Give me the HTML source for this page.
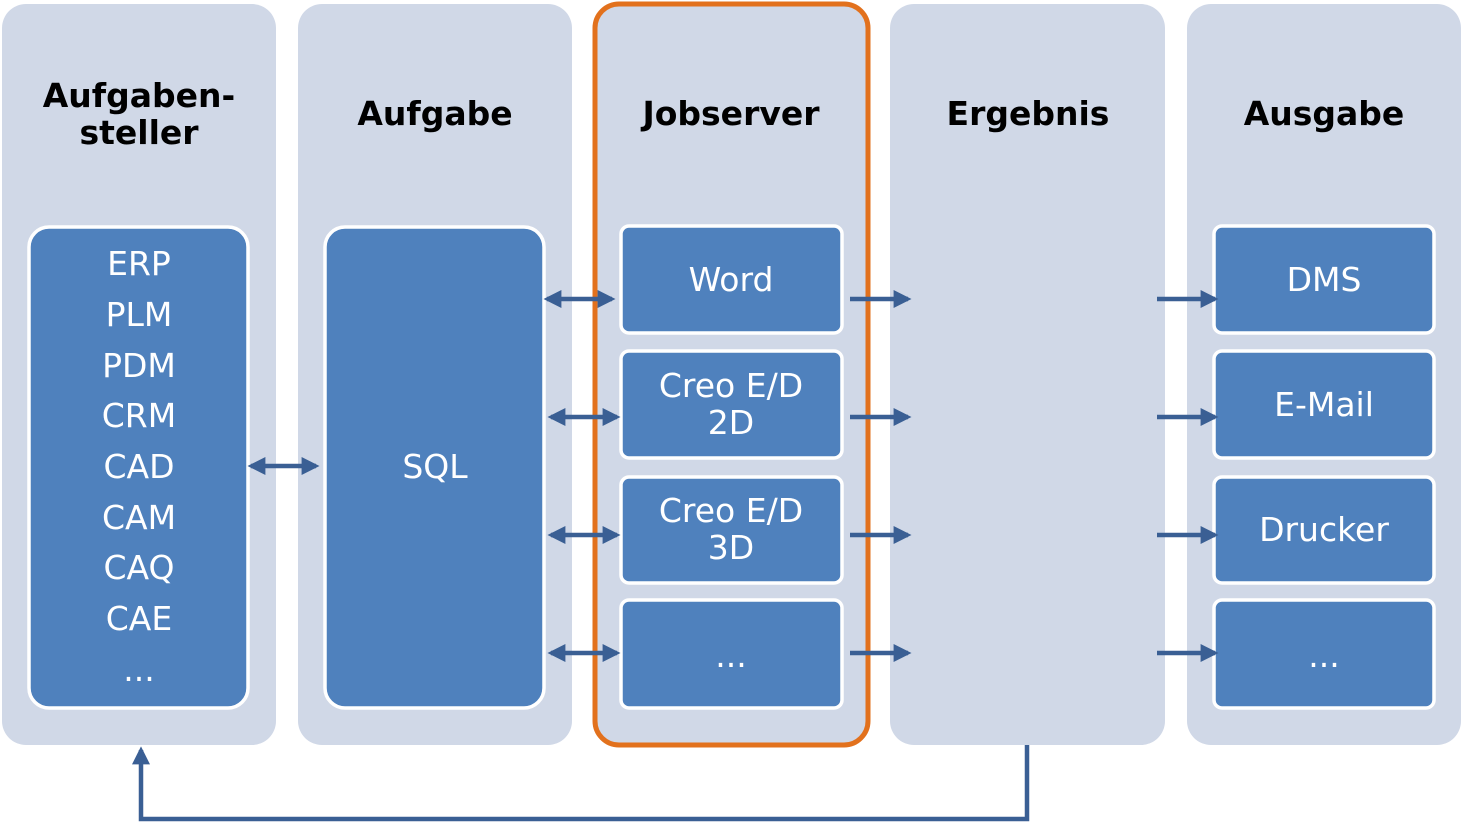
<!DOCTYPE html>
<html><head><meta charset="utf-8"><style>
html,body{margin:0;padding:0;background:#fff;}
svg{display:block;}
text{font-family:"DejaVu Sans","Liberation Sans",sans-serif;}
.t{font-weight:bold;font-size:33px;fill:#000;text-anchor:middle;}
.w{font-size:33px;fill:#fff;text-anchor:middle;}
</style></head><body>
<svg width="1463" height="822" viewBox="0 0 1463 822" xmlns="http://www.w3.org/2000/svg">
<defs>
<marker id="a" markerWidth="4" markerHeight="4" refX="3.2" refY="2" orient="auto" markerUnits="strokeWidth"><path d="M0,0 L4,2 L0,4 z" fill="#3a5f94"/></marker>
<marker id="b" markerWidth="4" markerHeight="4" refX="0.8" refY="2" orient="auto" markerUnits="strokeWidth"><path d="M4,0 L0,2 L4,4 z" fill="#3a5f94"/></marker>
</defs>
<g fill="#d0d8e7">
<rect x="2" y="4" width="274" height="741" rx="24"/>
<rect x="298" y="4" width="274" height="741" rx="24"/>
<rect x="595" y="4" width="273" height="741" rx="24"/>
<rect x="890" y="4" width="275" height="741" rx="24"/>
<rect x="1187" y="4" width="274" height="741" rx="24"/>
</g>
<rect x="595" y="4" width="273" height="741" rx="24" fill="none" stroke="#e2711d" stroke-width="5"/>
<g class="t">
<text x="139" y="107">Aufgaben-</text>
<text x="139" y="144">steller</text>
<text x="435" y="125">Aufgabe</text>
<text x="731" y="125">Jobserver</text>
<text x="1028" y="125">Ergebnis</text>
<text x="1324" y="125">Ausgabe</text>
</g>
<g fill="#4f81bd" stroke="#fff" stroke-width="3.5">
<rect x="29" y="227" width="219" height="481" rx="20"/>
<rect x="325" y="227" width="219" height="481" rx="20"/>
<rect x="621" y="226" width="221" height="107" rx="8"/>
<rect x="621" y="351" width="221" height="107" rx="8"/>
<rect x="621" y="477" width="221" height="106" rx="8"/>
<rect x="621" y="600" width="221" height="108" rx="8"/>
<rect x="1214" y="226" width="220" height="107" rx="8"/>
<rect x="1214" y="351" width="220" height="107" rx="8"/>
<rect x="1214" y="477" width="220" height="106" rx="8"/>
<rect x="1214" y="600" width="220" height="108" rx="8"/>
</g>
<g class="w">
<text x="139" y="275">ERP</text>
<text x="139" y="326">PLM</text>
<text x="139" y="377">PDM</text>
<text x="139" y="427">CRM</text>
<text x="139" y="478">CAD</text>
<text x="139" y="529">CAM</text>
<text x="139" y="579">CAQ</text>
<text x="139" y="630">CAE</text>
<text x="139" y="681">...</text>
<text x="435" y="478">SQL</text>
<text x="731" y="291">Word</text>
<text x="731" y="397">Creo E/D</text>
<text x="731" y="434">2D</text>
<text x="731" y="522">Creo E/D</text>
<text x="731" y="559">3D</text>
<text x="731" y="667">...</text>
<text x="1324" y="291">DMS</text>
<text x="1324" y="416">E-Mail</text>
<text x="1324" y="541">Drucker</text>
<text x="1324" y="667">...</text>
</g>
<g stroke="#3a5f94" stroke-width="4.5" fill="none">
<line x1="251" y1="466" x2="316" y2="466" marker-start="url(#b)" marker-end="url(#a)"/>
<line x1="547" y1="299" x2="612" y2="299" marker-start="url(#b)" marker-end="url(#a)"/>
<line x1="551" y1="417" x2="617" y2="417" marker-start="url(#b)" marker-end="url(#a)"/>
<line x1="551" y1="535" x2="617" y2="535" marker-start="url(#b)" marker-end="url(#a)"/>
<line x1="551" y1="653" x2="617" y2="653" marker-start="url(#b)" marker-end="url(#a)"/>
<line x1="850" y1="299" x2="908" y2="299" marker-end="url(#a)"/>
<line x1="850" y1="417" x2="908" y2="417" marker-end="url(#a)"/>
<line x1="850" y1="535" x2="908" y2="535" marker-end="url(#a)"/>
<line x1="850" y1="653" x2="908" y2="653" marker-end="url(#a)"/>
<line x1="1157" y1="299" x2="1215" y2="299" marker-end="url(#a)"/>
<line x1="1157" y1="417" x2="1215" y2="417" marker-end="url(#a)"/>
<line x1="1157" y1="535" x2="1215" y2="535" marker-end="url(#a)"/>
<line x1="1157" y1="653" x2="1215" y2="653" marker-end="url(#a)"/>
<path d="M1027 745 V819 H141 V750" marker-end="url(#a)"/>
</g>
</svg>
</body></html>
